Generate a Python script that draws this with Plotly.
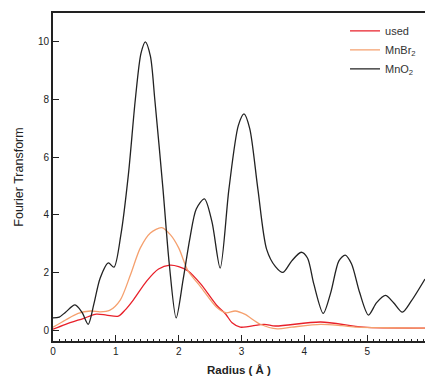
import plotly.graph_objects as go

# MnO2 (black)
r_mno2 = [0, 0.1, 0.2, 0.35, 0.46, 0.56, 0.65, 0.75, 0.88, 0.97, 1.08, 1.2, 1.31, 1.4, 1.47, 1.55, 1.62, 1.75, 1.85,
          1.96, 2.07, 2.18, 2.28, 2.41, 2.53, 2.66, 2.8, 2.95, 3.04, 3.13, 3.26, 3.4, 3.54, 3.66, 3.8, 3.95, 4.05,
          4.15, 4.3, 4.42, 4.55, 4.65, 4.75, 4.88, 5.02, 5.15, 5.29, 5.42, 5.56, 5.7, 5.92]
v_mno2 = [0.42, 0.45, 0.62, 0.87, 0.62, 0.2, 0.9, 1.8, 2.33, 2.18, 3.3, 5.4, 8.0, 9.6, 10.0, 9.5, 8.0, 4.9, 2.3,
          0.42, 1.74, 3.2, 4.2, 4.55, 3.75, 2.15, 4.9, 7.1, 7.5, 7.0, 4.9, 2.8, 2.2, 2.0, 2.4, 2.7, 2.5,
          1.6, 0.58, 1.3, 2.4, 2.6, 2.3, 1.3, 0.52, 0.95, 1.2, 0.95, 0.62, 1.0, 1.77]

# MnBr2 (orange)
r_mnbr2 = [0, 0.2, 0.4, 0.6, 0.75, 0.9, 1.07, 1.23, 1.39, 1.55, 1.73, 1.87, 2.0, 2.15, 2.35, 2.6, 2.75, 2.9, 3.05, 3.3,
           3.57, 3.8, 4.26, 4.6, 4.84, 5.3, 5.92]
v_mnbr2 = [0.1, 0.35, 0.58, 0.66, 0.63, 0.68, 1.04, 1.9, 2.85, 3.37, 3.55, 3.3, 2.85, 2.05, 1.5, 0.8, 0.6, 0.66, 0.55, 0.2,
           0.04, 0.1, 0.2, 0.15, 0.1, 0.08, 0.07]

# used (red)
r_used = [0, 0.2, 0.48, 0.69, 0.85, 1.04, 1.15, 1.28, 1.49, 1.68, 1.86, 2.0, 2.15, 2.35, 2.6, 2.75, 2.85, 2.98, 3.36, 3.54,
          4.26, 4.94, 5.92]
v_used = [0.03, 0.2, 0.4, 0.55, 0.52, 0.48, 0.7, 1.05, 1.7, 2.12, 2.25, 2.2, 2.05, 1.6, 0.87, 0.55, 0.25, 0.1, 0.2, 0.14,
          0.28, 0.1, 0.07]

x_ticks = [0, 1, 2, 3, 4, 5]
x_half_ticks = [0.5, 1.5, 2.5, 3.5, 4.5, 5.5]
y_ticks = [0, 2, 4, 6, 8, 10]

FONT = "Liberation Sans, Arial, sans-serif"
INK = "#222222"

fig = go.Figure()
fig.add_trace(go.Scatter(x=r_used, y=v_used, mode="lines", name="used",
                         line=dict(color="#e8202a", width=1.3, shape="spline", smoothing=0.8)))
fig.add_trace(go.Scatter(x=r_mnbr2, y=v_mnbr2, mode="lines", name="MnBr<sub>2</sub>",
                         line=dict(color="#f5a06e", width=1.3, shape="spline", smoothing=0.8)))
fig.add_trace(go.Scatter(x=r_mno2, y=v_mno2, mode="lines", name="MnO<sub>2</sub>",
                         line=dict(color=INK, width=1.3, shape="spline", smoothing=0.8)))

fig.update_layout(
    width=425, height=378,
    margin=dict(l=53, r=0, t=13, b=37),
    plot_bgcolor="white", paper_bgcolor="white",
    font=dict(family=FONT, color=INK),
    showlegend=True,
    legend=dict(x=0.785, y=0.99, xanchor="left", yanchor="top", bgcolor="rgba(0,0,0,0)",
                font=dict(size=11, color="#333"), itemwidth=30),
    xaxis=dict(range=[0, 5.92], tickvals=x_ticks, ticks="inside", ticklen=6, tickwidth=1.2,
               tickcolor=INK, showline=True, linecolor=INK, linewidth=2, mirror=True,
               showgrid=False, zeroline=False, automargin=False,
               tickprefix="<b>", ticksuffix="</b>",
               tickfont=dict(size=10, family=FONT, color=INK),
               minor=dict(dtick=0.1, ticks="inside", ticklen=2.5, tickwidth=1, tickcolor=INK, showgrid=False),
               title=dict(text="<b>Radius ( Å )</b>", font=dict(size=11.5), standoff=10)),
    xaxis2=dict(range=[0, 5.92], overlaying="x", anchor="y", side="bottom", tickvals=x_half_ticks,
                ticks="inside", ticklen=4, tickwidth=1, tickcolor=INK, showticklabels=False,
                showline=False, showgrid=False, zeroline=False, automargin=False),
    yaxis=dict(range=[-0.38, 11.0], tickvals=y_ticks, ticks="inside", ticklen=6, tickwidth=1.2,
               tickcolor=INK, showline=True, linecolor=INK, linewidth=2, mirror=False,
               showgrid=False, zeroline=False, automargin=False,
               tickprefix="<b>", ticksuffix="</b>",
               tickfont=dict(size=10, family=FONT, color=INK),
               title=dict(text="Fourier Transform", font=dict(size=12.5), standoff=12)),
)

fig.write_html("out.html", config={"displayModeBar": False},
               post_script="document.body.style.margin='0';")
